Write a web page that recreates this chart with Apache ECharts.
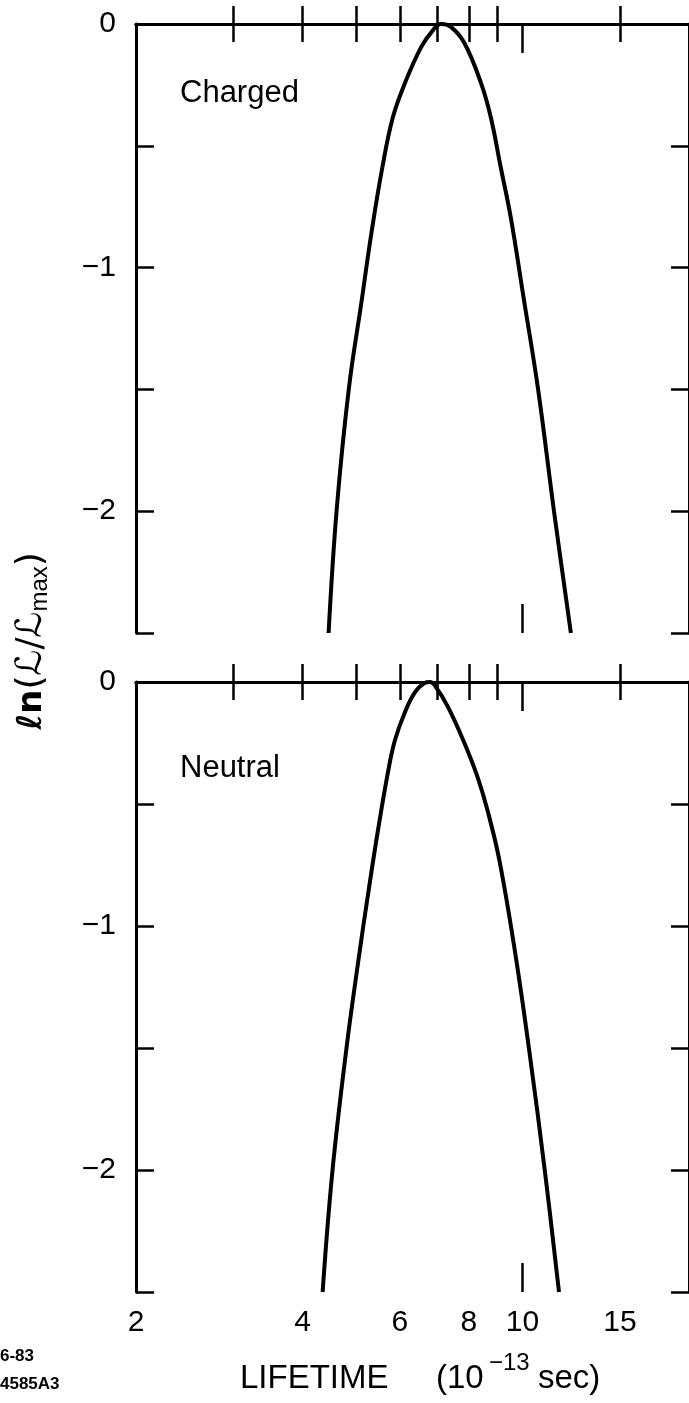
<!DOCTYPE html>
<html>
<head>
<meta charset="utf-8">
<script src="https://cdn.jsdelivr.net/npm/echarts@6/dist/echarts.min.js"></script>
<style>
html,body{margin:0;padding:0;background:#fff;}
#chart{width:689px;height:1403px;}
</style>
</head>
<body>
<div id="chart"></div>
<script>
// ---- data (lifetime in 1e-13 s, ln(L/Lmax)) ----
const chargedT = [4.46, 4.61, 4.85, 5.12, 5.33, 5.58, 5.83, 6.13, 6.56, 6.89, 7.12, 7.42, 7.85, 8.41, 8.76, 9.13, 9.52, 10.06, 10.67, 11.40, 12.23];
const chargedV = [-2.5, -2.0, -1.5, -1.133, -0.858, -0.587, -0.382, -0.242, -0.094, -0.025, 0.0, -0.012, -0.078, -0.242, -0.382, -0.587, -0.793, -1.133, -1.5, -2.0, -2.5];
const neutralT = [4.35, 4.53, 4.80, 5.05, 5.26, 5.49, 5.72, 5.88, 6.12, 6.38, 6.65, 6.80, 6.93, 7.33, 7.85, 8.29, 8.64, 9.08, 9.70, 10.28, 10.98, 11.64];
const neutralV = [-2.5, -2.008, -1.508, -1.139, -0.865, -0.594, -0.361, -0.238, -0.127, -0.045, -0.004, 0.0, -0.012, -0.102, -0.25, -0.389, -0.525, -0.73, -1.111, -1.508, -2.008, -2.5];
const xTickValues = [3, 4, 5, 6, 7, 8, 9, 15];
const xLongTickValues = [10];
const xLabelValues = [2, 4, 6, 8, 10, 15];
const yLabelValues = [0, -1, -2];
const panelNames = ['Charged', 'Neutral'];

const chart = echarts.init(document.getElementById('chart'));
const FONT = 'Liberation Sans';
const LW = 3;

const grids = [
  {left: 136, top: 24, width: 557, height: 609},
  {left: 136, top: 682, width: 557, height: 610}
];

function xAxesFor(gi, withLabels) {
  const base = {
    type: 'log', logBase: 10, min: 2, max: 20, gridIndex: gi,
    splitLine: {show: false}, minorTick: {show: false}
  };
  const line = {show: true, lineStyle: {color: '#000', width: LW}};
  const tickStyle = {color: '#000', width: 2.5};
  return [
    Object.assign({}, base, {
      position: 'bottom', axisLine: line,
      axisTick: {show: true, inside: true, length: 18, customValues: xTickValues, lineStyle: tickStyle},
      axisLabel: withLabels ? {
        show: true, customValues: xLabelValues, margin: 16,
        fontSize: 30, fontFamily: FONT, color: '#000',
        formatter: v => String(Math.round(v * 100) / 100)
      } : {show: false}
    }),
    Object.assign({}, base, {
      position: 'top', axisLine: line,
      axisTick: {show: true, inside: true, length: 18, customValues: xTickValues, lineStyle: tickStyle},
      axisLabel: {show: false}
    }),
    Object.assign({}, base, {
      position: 'bottom', axisLine: {show: false},
      axisTick: {show: true, inside: true, length: 29, customValues: xLongTickValues, lineStyle: tickStyle},
      axisLabel: {show: false}
    }),
    Object.assign({}, base, {
      position: 'top', axisLine: {show: false},
      axisTick: {show: true, inside: true, length: 29, customValues: xLongTickValues, lineStyle: tickStyle},
      axisLabel: {show: false}
    })
  ];
}

function yAxesFor(gi) {
  const base = {
    type: 'value', min: -2.5, max: 0, interval: 0.5, gridIndex: gi,
    splitLine: {show: false},
    axisLine: {show: true, lineStyle: {color: '#000', width: LW}},
    axisTick: {show: true, inside: true, length: 18, lineStyle: {color: '#000', width: 2.5}}
  };
  return [
    Object.assign({}, base, {
      position: 'left',
      axisLabel: {
        show: true, customValues: yLabelValues, margin: 20,
        fontSize: 30, fontFamily: FONT, color: '#000',
        formatter: v => (v < 0 ? '\u2212' + Math.abs(v) : String(v))
      }
    }),
    Object.assign({}, base, {position: 'right', axisLabel: {show: false}})
  ];
}

const option = {
  animation: false,
  backgroundColor: '#fff',
  grid: grids,
  xAxis: [].concat(xAxesFor(0, false), xAxesFor(1, true)),
  yAxis: [].concat(yAxesFor(0), yAxesFor(1)),
  series: [
    {
      type: 'line', xAxisIndex: 0, yAxisIndex: 0, smooth: 0.4, showSymbol: false,
      lineStyle: {color: '#000', width: 4}, clip: true,
      data: chargedT.map((t, i) => [t, chargedV[i]])
    },
    {
      type: 'line', xAxisIndex: 4, yAxisIndex: 2, smooth: 0.4, showSymbol: false,
      lineStyle: {color: '#000', width: 4}, clip: true,
      data: neutralT.map((t, i) => [t, neutralV[i]])
    }
  ],
  graphic: [
    {type: 'text', left: 180, top: 78, style: {text: panelNames[0], font: '31px "Liberation Sans"', fill: '#000'}},
    {type: 'text', left: 180, top: 753, style: {text: panelNames[1], font: '31px "Liberation Sans"', fill: '#000'}},
    {
      type: 'text', x: 32, y: 641, rotation: Math.PI / 2,
      style: {
        text: '{a|\u2113n}{b|(\u2112/\u2112}{s|max}{b|)}',
        align: 'center', verticalAlign: 'middle',
        rich: {
          a: {font: 'bold 34px "DejaVu Sans"', fill: '#000'},
          b: {font: '36px "DejaVu Sans"', fill: '#000'},
          s: {font: '24px "Liberation Sans"', fill: '#000', padding: [16, 0, 0, 0]}
        }
      }
    },
    {type: 'text', left: 240, top: 1362, style: {text: 'LIFETIME', font: '33px "Liberation Sans"', fill: '#000'}},
    {type: 'text', left: 436, top: 1362, style: {text: '(10', font: '33px "Liberation Sans"', fill: '#000'}},
    {type: 'text', left: 489, top: 1351, style: {text: '\u221213', font: '24px "Liberation Sans"', fill: '#000'}},
    {type: 'text', left: 538, top: 1362, style: {text: 'sec)', font: '33px "Liberation Sans"', fill: '#000'}},
    {type: 'text', left: 0, top: 1348, style: {text: '6-83', font: 'bold 17px "Liberation Sans"', fill: '#000'}},
    {type: 'text', left: 0, top: 1376, style: {text: '4585A3', font: 'bold 17px "Liberation Sans"', fill: '#000'}}
  ]
};
chart.setOption(option);
</script>
</body>
</html>
